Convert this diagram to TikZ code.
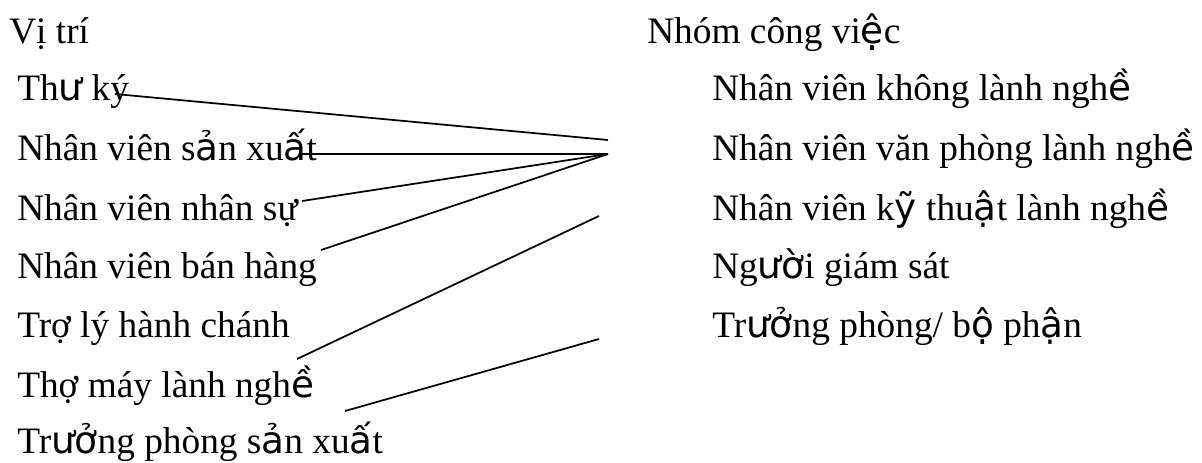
\documentclass[tikz,border=0pt]{standalone}
\usepackage{fontspec}
\setmainfont{Liberation Serif}
\newfontfamily\dejavu{DejaVu Sans}
\newcommand{\fbk}[1]{{\dejavu #1}}
\usetikzlibrary{positioning}

\begin{document}
\begin{tikzpicture}[
    x=0.75pt,y=-0.75pt,
    label/.style={anchor=base west,inner sep=0pt,font=\fontsize{28}{32}\selectfont},
    link/.style={draw=black,line width=1.3pt}
  ]
    \useasboundingbox (0,0) rectangle (1202,462);
    % left column: positions
    \node[label] (hdrpos) at (9,43) {Vị trí};
    \node[label] (posone) at (17,100) {Th\fbk{ư} ký};
    \node[label] (postwo) at (17,160) {Nhân viên s\fbk{ả}n xu\fbk{ấ}t};
    \node[label] (posthree) at (17,220) {Nhân viên nhân sự};
    \node[label] (posfour) at (17,278) {Nhân viên bán hàng};
    \node[label] (posfive) at (17,337) {Trợ lý hành chánh};
    \node[label] (possix) at (17,397) {Thợ máy lành ngh\fbk{ề}};
    \node[label] (posseven) at (17,453) {Tr\fbk{ưở}ng phòng s\fbk{ả}n xu\fbk{ấ}t};
    % right column: job groups
    \node[label] (hdrgroup) at (647,43) {Nhóm công vi\fbk{ệ}c};
    \node[label] (grpone) at (712,100) {Nhân viên không lành ngh\fbk{ề}};
    \node[label] (grptwo) at (712,160) {Nhân viên văn phòng lành ngh\fbk{ề}};
    \node[label] (grpthree) at (712,220) {Nhân viên k\fbk{ỹ} thu\fbk{ậ}t lành ngh\fbk{ề}};
    \node[label] (grpfour) at (712,278) {Ng\fbk{ườ}i giám sát};
    \node[label] (grpfive) at (712,337) {Tr\fbk{ưở}ng phòng/ b\fbk{ộ} ph\fbk{ậ}n};
    % line ends
    \coordinate (hub) at (608,154);
    \coordinate (hubtop) at (608,140);
    \coordinate (hubmid) at (599,216);
    \coordinate (hublow) at (599,339);
    \coordinate (endone) at (115,94);
    \coordinate (endtwo) at (300,154);
    \coordinate (endthree) at (302,201);
    \coordinate (endfour) at (321,250);
    \coordinate (endfive) at (297,359);
    \coordinate (endsix) at (345,411);
    \draw[link] (endone) -- (hubtop);
    \draw[link] (endtwo) -- (hub);
    \draw[link] (endthree) -- (hub);
    \draw[link] (endfour) -- (hub);
    \draw[link] (endfive) -- (hubmid);
    \draw[link] (endsix) -- (hublow);
\end{tikzpicture}
\end{document}
